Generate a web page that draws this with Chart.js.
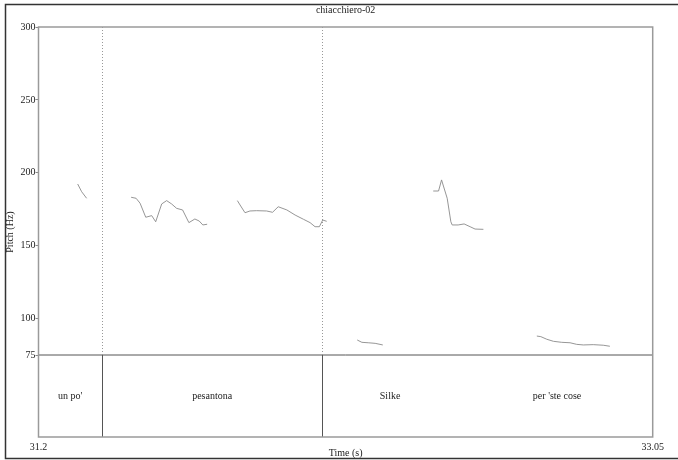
<!DOCTYPE html>
<html>
<head>
<meta charset="utf-8">
<script src="https://cdn.jsdelivr.net/npm/chart.js@4/dist/chart.umd.min.js"></script>
<style>
  html, body { margin: 0; padding: 0; background: #fff; }
  #pitchChart { display: block; }
</style>
</head>
<body>
<canvas id="pitchChart" width="678" height="460"></canvas>
<script>
// ================= DATA =================
const chartTitle = "chiacchiero-02";
const xTitle = "Time (s)";
const yTitle = "Pitch (Hz)";

const xTicks = [31.2, 33.05];
const yTicks = [75, 100, 150, 200, 250, 300];

// pitch contour pieces (time s, pitch Hz)
const unpoTime = [31.318, 31.330, 31.345];
const unpoHz = [192.3, 187.0, 182.5];

const pesA_Time = [31.479, 31.494, 31.506, 31.523, 31.541, 31.553, 31.571, 31.586,
  31.601, 31.616, 31.634, 31.653, 31.671, 31.684, 31.695, 31.708];
const pesA_Hz = [183.2, 182.5, 179.1, 169.5, 170.6, 166.4, 178.6, 180.9,
  178.6, 175.6, 174.5, 165.8, 168.3, 166.9, 164.2, 164.7];

const pesB_Time = [31.799, 31.809, 31.822, 31.837, 31.857, 31.887, 31.905, 31.922,
  31.948, 31.973, 31.998, 32.018, 32.033, 32.046, 32.056, 32.068];
const pesB_Hz = [180.9, 177.2, 172.6, 173.8, 174.0, 173.8, 172.9, 176.7,
  174.5, 171.0, 168.1, 165.8, 163.0, 163.0, 167.6, 166.7];

const silkeLowTime = [32.160, 32.174, 32.193, 32.214, 32.237];
const silkeLowHz = [85.3, 83.7, 83.4, 83.0, 81.9];

const silkeHighTime = [32.389, 32.405, 32.414, 32.431, 32.442, 32.446, 32.464, 32.482, 32.500, 32.515, 32.540];
const silkeHighHz = [187.5, 187.5, 195.1, 182.5, 166.4, 164.2, 164.2, 164.9, 163.0, 161.4, 161.2];

const coseTime = [32.701, 32.713, 32.731, 32.751, 32.776, 32.801, 32.821, 32.841, 32.871, 32.901, 32.921];
const coseHz = [88.0, 87.6, 85.8, 84.4, 83.7, 83.4, 82.3, 81.9, 82.1, 81.7, 81.0];

// text tier
const boundaryTimes = [31.392, 32.055];
const tierLabels = ["un po'", "pesantona", "Silke", "per 'ste cose"];
const tierLabelTimes = [31.295, 31.723, 32.259, 32.762];

const tierBottomHz = 18.75; // lower end of the tier strip under 75 Hz
const tierTopHz = 75;

// ================= HELPERS =================
const FONT = "Liberation Serif, Times New Roman, serif";

function toPoints(times, values) {
  return times.map((t, i) => ({ x: t, y: values[i] }));
}

function piece(times, values) {
  return {
    data: toPoints(times, values),
    borderColor: "#8a8a8a",
    borderWidth: 0.9,
    pointRadius: 0,
    fill: false,
    tension: 0,
  };
}

// ================= DECORATION PLUGIN =================
const praatFrame = {
  id: "praatFrame",
  beforeDatasetsDraw(chart) {
    const { ctx, chartArea: a, scales } = chart;
    const y75 = scales.y.getPixelForValue(tierTopHz);

    ctx.save();
    // tier separator
    ctx.strokeStyle = "#555";
    ctx.lineWidth = 1;
    ctx.beginPath();
    ctx.moveTo(a.left, y75);
    ctx.lineTo(a.right, y75);
    ctx.stroke();

    boundaryTimes.forEach(t => {
      const x = Math.round(scales.x.getPixelForValue(t)) + 0.5;
      ctx.strokeStyle = "#999";
      ctx.setLineDash([1, 2]);
      ctx.beginPath();
      ctx.moveTo(x, a.top);
      ctx.lineTo(x, y75);
      ctx.stroke();
      ctx.setLineDash([]);
      ctx.strokeStyle = "#555";
      ctx.beginPath();
      ctx.moveTo(x, y75);
      ctx.lineTo(x, a.bottom);
      ctx.stroke();
    });

    // plot frame
    ctx.strokeStyle = "#9a9a9a";
    ctx.lineWidth = 1.5;
    ctx.strokeRect(a.left, a.top, a.right - a.left, a.bottom - a.top);
    ctx.restore();
  },
  afterDraw(chart) {
    const { ctx, chartArea: a, scales } = chart;
    ctx.save();
    ctx.fillStyle = "#222";
    ctx.font = "10px " + FONT;
    ctx.textAlign = "center";
    ctx.textBaseline = "middle";

    const midY = scales.y.getPixelForValue((tierBottomHz + tierTopHz) / 2);
    tierLabels.forEach((label, i) => {
      ctx.fillText(label, scales.x.getPixelForValue(tierLabelTimes[i]), midY);
    });

    ctx.fillText(chartTitle, (a.left + a.right) / 2, 10);
    ctx.fillText(xTitle, (a.left + a.right) / 2, 453);

    // outer frame
    ctx.strokeStyle = "#333";
    ctx.lineWidth = 1.5;
    ctx.beginPath();
    ctx.moveTo(678, 4.5);
    ctx.lineTo(5.5, 4.5);
    ctx.lineTo(5.5, 458.5);
    ctx.lineTo(678, 458.5);
    ctx.stroke();
    ctx.restore();
  },
};

// ================= CHART =================
const ctx = document.getElementById("pitchChart").getContext("2d");

new Chart(ctx, {
  type: "line",
  data: {
    datasets: [
      piece(unpoTime, unpoHz),
      piece(pesA_Time, pesA_Hz),
      piece(pesB_Time, pesB_Hz),
      piece(silkeLowTime, silkeLowHz),
      piece(silkeHighTime, silkeHighHz),
      piece(coseTime, coseHz),
    ],
  },
  options: {
    responsive: false,
    animation: false,
    events: [],
    layout: { padding: { top: 27, right: 25.3, bottom: 0, left: 0 } },
    plugins: {
      legend: { display: false },
      title: { display: false },
      tooltip: { enabled: false },
    },
    scales: {
      x: {
        type: "linear",
        min: xTicks[0],
        max: xTicks[xTicks.length - 1],
        afterBuildTicks: s => { s.ticks = xTicks.map(v => ({ value: v })); },
        afterFit: s => { s.height = 23; },
        grid: { display: false, drawTicks: false },
        border: { display: false },
        ticks: {
          autoSkip: false,
          maxRotation: 0,
          padding: 4,
          color: "#222",
          font: { family: FONT, size: 10 },
          callback: v => String(v),
        },
      },
      y: {
        type: "linear",
        min: tierBottomHz,
        max: yTicks[yTicks.length - 1],
        afterBuildTicks: s => { s.ticks = yTicks.map(v => ({ value: v })); },
        afterFit: s => { s.width = 38.5; },
        grid: { drawOnChartArea: false, drawTicks: true, tickLength: 3, color: "#888" },
        border: { display: false },
        title: {
          display: true,
          text: yTitle,
          color: "#222",
          font: { family: FONT, size: 10 },
          padding: { top: 4, bottom: 0 },
        },
        ticks: {
          autoSkip: false,
          padding: 0,
          color: "#222",
          font: { family: FONT, size: 10 },
        },
      },
    },
  },
  plugins: [praatFrame],
});
</script>
</body>
</html>
